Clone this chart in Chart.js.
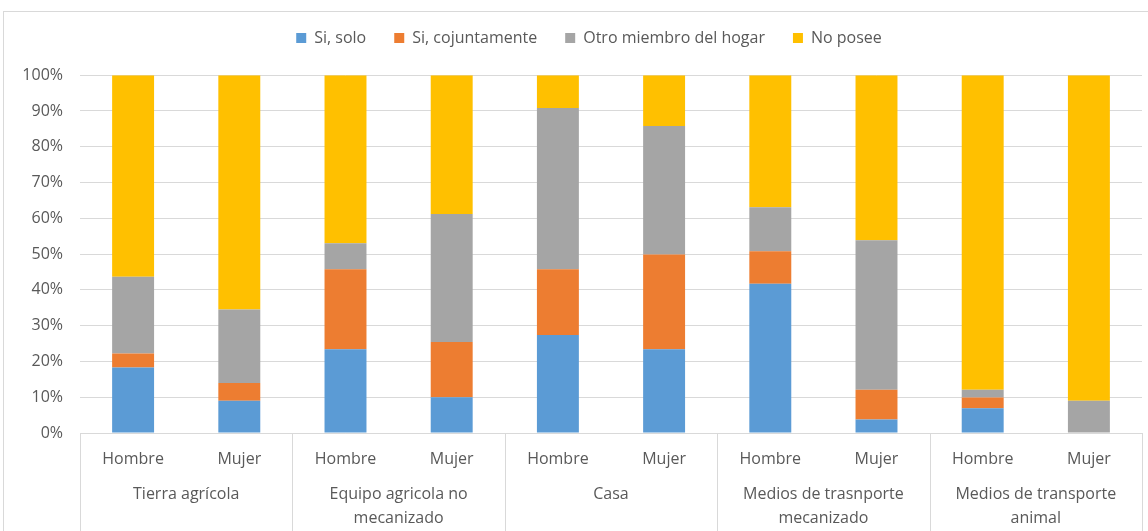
<!DOCTYPE html>
<html>
<head>
<meta charset="utf-8">
<script src="https://cdn.jsdelivr.net/npm/chart.js@4.4.1/dist/chart.umd.min.js"></script>
<style>
  html, body { margin: 0; padding: 0; background: #fff; }
  #wrap { position: relative; width: 1148px; height: 531px; overflow: hidden; }
  #frame { position: absolute; left: 3px; top: 11px; width: 1160px; height: 540px; border: 1px solid #d9d9d9; box-sizing: border-box; }
  #c { position: absolute; left: 0; top: 0; }
</style>
</head>
<body>
<div id="wrap">
  <div id="frame"></div>
  <canvas id="c" width="1148" height="531"></canvas>
</div>
<script>
const bars = ["Hombre","Mujer","Hombre","Mujer","Hombre","Mujer","Hombre","Mujer","Hombre","Mujer"];
const groups = ["Tierra agrícola", ["Equipo agricola no","mecanizado"], "Casa", ["Medios de trasnporte","mecanizado"], ["Medios de transporte","animal"]];
const seriesNames = ["Si, solo","Si, cojuntamente","Otro miembro del hogar","No posee"];
const siSolo        = [18.3, 9.0, 23.4, 10.0, 27.4, 23.4, 41.7, 3.8, 6.9, 0];
const siCojunta     = [3.9, 5.0, 22.4, 15.4, 18.4, 26.5, 9.1, 8.3, 3.0, 0];
const otroMiembro   = [21.5, 20.5, 7.2, 35.8, 45.0, 35.9, 12.3, 41.8, 2.2, 9.0];
const noPosee       = [56.3, 65.5, 47.0, 38.8, 9.2, 14.2, 36.9, 46.1, 87.9, 91.0];
const yTicks = [0,10,20,30,40,50,60,70,80,90,100];
const colors = ["#5B9BD5","#ED7D31","#A5A5A5","#FFC000"];

const FONT = "'Open Sans', sans-serif";
const TXT = "#595959";
const GRID = "#d9d9d9";

const separators = {
  id: 'separators',
  afterLayout(chart) {
    // the original frame is wider than the visible picture; centre the legend on it
    if (chart.legend) { chart.legend.left += 18; chart.legend.right += 18; }
  },
  afterDraw(chart) {
    const g = chart.scales.xGroup;
    const ctx = chart.ctx;
    const top = chart.chartArea.bottom;
    ctx.save();
    ctx.strokeStyle = GRID;
    ctx.lineWidth = 1;
    for (let i = 0; i <= groups.length; i++) {
      const x = Math.round(g.getPixelForValue(i - 0.5)) + 0.5;
      ctx.beginPath();
      ctx.moveTo(x, top);
      ctx.lineTo(x, chart.height);
      ctx.stroke();
    }
    ctx.restore();
  }
};

new Chart(document.getElementById('c'), {
  type: 'bar',
  data: {
    labels: bars,
    datasets: seriesNames.map((n, i) => ({
      label: n,
      data: [siSolo, siCojunta, otroMiembro, noPosee][i],
      backgroundColor: colors[i],
      borderWidth: 0,
      categoryPercentage: 1,
      barPercentage: 0.395,
      xAxisID: 'x'
    }))
  },
  options: {
    responsive: false,
    animation: false,
    layout: { padding: { left: 0, right: 6, top: 2, bottom: 0 } },
    plugins: {
      legend: {
        position: 'top',
        labels: { font: { family: FONT, size: 16 }, color: TXT, boxWidth: 10, boxHeight: 10, padding: 28 }
      },
      subtitle: {
        display: true,
        text: '',
        weight: 500,
        font: { size: 1 },
        padding: { top: 0, bottom: 18 }
      },
      tooltip: { enabled: false }
    },
    scales: {
      x: {
        stacked: true,
        grid: { display: false, drawTicks: false },
        border: { display: true, color: GRID },
        ticks: { font: { family: FONT, size: 16 }, color: TXT, padding: 17, maxRotation: 0, autoSkip: false },
        afterFit(s) { s.height = 36; }
      },
      xGroup: {
        type: 'category',
        labels: groups,
        position: 'bottom',
        offset: true,
        grid: { display: false, drawTicks: false },
        border: { display: false },
        ticks: { font: { family: FONT, size: 16, lineHeight: 1.5 }, color: TXT, padding: 13, maxRotation: 0, autoSkip: false },
        afterFit(s) { s.height = 62; }
      },
      y: {
        stacked: true,
        min: 0, max: 100,
        afterBuildTicks(s) { s.ticks = yTicks.map(v => ({ value: v })); },
        grid: { color: GRID, drawTicks: false },
        border: { display: false },
        ticks: { font: { family: FONT, size: 16 }, color: TXT, padding: 17, callback: v => v + '%' },
        afterFit(s) { s.width = 80; }
      }
    }
  },
  plugins: [separators]
});
</script>
</body>
</html>
